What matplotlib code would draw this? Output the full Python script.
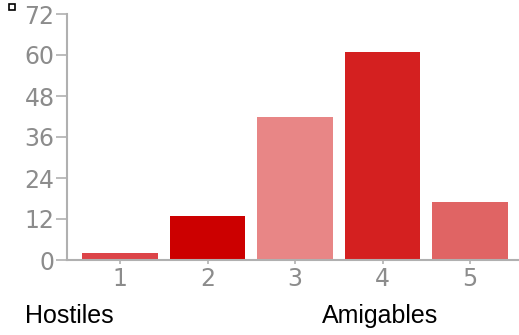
import matplotlib.pyplot as plt
from matplotlib.patches import Rectangle

# survey scores, 1 = hostile ... 5 = friendly
categories = [1, 2, 3, 4, 5]
counts = [2, 13, 42, 61, 17]
bar_colors = ['#dc4448', '#cc0000', '#e88686', '#d42020', '#e06464']
yticks = [0, 12, 24, 36, 48, 60, 72]

W, H = 519, 335
fig = plt.figure(figsize=(W / 100, H / 100), dpi=100)
ax = fig.add_axes([67 / W, 75 / H, 1 - 67 / W, (260 - 14) / H])

ax.bar(categories, counts, width=0.86, color=bar_colors)
ax.set_xlim(0.394, 5.56)
ax.set_ylim(0, 72)
ax.set_yticks(yticks)
ax.set_xticks(categories)

grey = '#8c8c8c'
for side in ['top', 'right']:
    ax.spines[side].set_visible(False)
for side in ['left', 'bottom']:
    ax.spines[side].set_color('#b0b0b0')
    ax.spines[side].set_linewidth(1.5)
ax.tick_params(axis='y', length=8, width=1.2, color='#b0b0b0', labelcolor=grey,
               labelsize=17, pad=1)
ax.tick_params(axis='x', length=3, width=1.2, color='#b0b0b0', labelcolor=grey,
               labelsize=17, pad=2)
for lbl in ax.get_xticklabels() + ax.get_yticklabels():
    lbl.set_family('DejaVu Sans')

# end labels of the scale
fig.text(25 / W, 1 - 316 / H, 'Hostiles', family='Liberation Sans', fontsize=18,
         va='center', ha='left', color='black')
fig.text(322 / W, 1 - 316 / H, 'Amigables', family='Liberation Sans', fontsize=18,
         va='center', ha='left', color='black')

# small legend box in the corner
fig.patches.append(Rectangle((9 / W, 1 - 10 / H), 6 / W, 6 / H, transform=fig.transFigure,
                             fill=False, edgecolor='black', linewidth=1.2))

fig.savefig('out.png', dpi=100)
